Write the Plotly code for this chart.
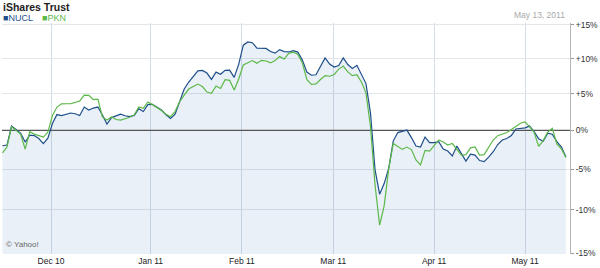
import math
import plotly.graph_objects as go

chart_title = "iShares Trust"
date_label = "May 13, 2011"
credit_label = "© Yahoo!"
series_names = ["NUCL", "PKN"]

# percent change vs. start, one value per trading day (Nov 15 2010 .. May 13 2011)
nucl_pct = [
    -2.01, -1.92, 0.58, 0.12, -0.34, -1.53, -0.61, -0.68, -1.07, -1.72,
    -1.01, 0.92, 2.13, 2.00, 2.13, 2.34, 2.24, 2.00, 3.15, 2.74,
    3.01, 3.15, 2.06, 0.85, 1.72, 1.96, 2.17, 1.97, 1.85, 2.02,
    2.93, 2.54, 3.48, 3.52, 3.10, 2.74, 2.10, 1.59, 2.19, 3.76,
    5.64, 6.63, 7.41, 8.21, 8.28, 7.90, 7.01, 8.04, 7.72, 8.28,
    8.33, 7.28, 9.19, 11.96, 12.44, 12.33, 11.53, 11.48, 11.48, 11.02,
    10.79, 11.31, 11.01, 10.96, 11.15, 10.94, 9.77, 8.04, 7.59, 7.66,
    8.86, 10.09, 9.19, 8.76, 8.99, 10.10, 9.12, 8.57, 9.01, 7.62,
    6.41, 2.30, -5.10, -8.10, -6.80, -4.90, -1.40, -0.28, -0.08, 0.05,
    -0.94, -2.05, -2.18, -0.87, -1.59, -1.59, -1.49, -2.44, -2.69, -3.33,
    -2.05, -3.08, -3.98, -3.08, -3.21, -3.91, -4.04, -3.47, -2.78, -1.85,
    -1.26, -1.06, -0.66, 0.19, 0.24, 0.34, 0.58, -0.15, -1.09, -1.41,
    -0.35, -0.50, -1.47, -2.14, -3.47,
]
pkn_pct = [
    -2.92, -2.18, 0.49, 0.05, -0.48, -2.44, -0.17, -0.48, -0.70, -0.87,
    -0.21, 2.00, 3.15, 3.59, 3.60, 3.60, 3.78, 3.98, 4.80, 4.77,
    4.18, 4.25, 1.80, 1.39, 1.80, 1.46, 1.39, 1.55, 1.76, 2.08,
    3.17, 2.98, 3.84, 3.48, 3.10, 2.67, 2.17, 1.84, 2.56, 3.88,
    4.80, 5.64, 6.00, 6.34, 5.99, 5.22, 5.04, 6.06, 5.71, 6.95,
    6.86, 5.50, 7.05, 9.06, 9.38, 9.70, 9.31, 9.74, 9.64, 9.36,
    9.70, 10.28, 9.92, 10.76, 10.94, 10.64, 9.34, 6.97, 6.28, 6.36,
    6.99, 7.54, 7.45, 7.68, 8.47, 8.90, 8.07, 7.53, 7.68, 6.63,
    5.11, 0.50, -7.00, -11.80, -9.50, -5.00, -1.72, -2.09, -2.48, -2.18,
    -2.50, -3.84, -4.46, -2.61, -2.69, -1.98, -1.24, -1.52, -1.92, -1.72,
    -2.44, -3.21, -3.15, -2.28, -2.15, -3.21, -3.15, -2.18, -1.26, -0.69,
    -0.48, -0.27, 0.13, 0.54, 0.96, 1.15, 0.52, -0.25, -2.09, -1.33,
    -0.21, 0.30, -1.76, -2.40, -3.53,
]

month_labels = ["Dec 10", "Jan 11", "Feb 11", "Mar 11", "Apr 11", "May 11"]
month_pos = [10.7, 32.6, 52.7, 72.8, 95.0, 115.0]
y_tick_pct = [-15, -10, -5, 0, 5, 10, 15]
y_tick_labels = ["-15%", "-10%", "-5%", "0%", "+5%", "+10%", "+15%"]
y_range_pct = [-15.1, 15.3]
reference_pct = 0

blue = "#1f4f8a"
green = "#5cb848"
font_family = "Arial, Liberation Sans, sans-serif"

days = list(range(len(nucl_pct)))
ratio = lambda v: 1 + v / 100.0

fig = go.Figure()
fig.add_trace(go.Scatter(
    x=days, y=[ratio(v) for v in nucl_pct], mode="lines",
    line=dict(width=0, color=blue), fill="tozeroy",
    fillcolor="rgba(40,110,180,0.10)", hoverinfo="skip", showlegend=False))
fig.add_trace(go.Scatter(
    x=[days[0] - 1, days[-1] + 1], y=[ratio(reference_pct)] * 2, mode="lines",
    line=dict(width=1.3, color="#555555"), hoverinfo="skip", showlegend=False))
fig.add_trace(go.Scatter(
    x=days, y=[ratio(v) for v in nucl_pct], mode="lines", name=series_names[0],
    line=dict(width=1.2, color=blue), showlegend=False))
fig.add_trace(go.Scatter(
    x=days, y=[ratio(v) for v in pkn_pct], mode="lines", name=series_names[1],
    line=dict(width=1.2, color=green), showlegend=False))

H_TOP, H_BOT = 23, 14
plot_h = 268 - H_TOP - H_BOT
def py(px):
    return (268 - H_BOT - px) / plot_h
L, R = 2, 23
plot_w = 600 - L - R
def pxx(px):
    return (px - L) / plot_w

annotations = [
    dict(text="<b>" + chart_title + "</b>", x=pxx(1), y=py(7), xref="paper", yref="paper",
         xanchor="left", yanchor="middle", showarrow=False,
         font=dict(size=10.5, color="#222", family=font_family)),
    dict(text="■" + series_names[0], x=pxx(1), y=py(18), xref="paper", yref="paper",
         xanchor="left", yanchor="middle", showarrow=False,
         font=dict(size=9, color=blue, family=font_family)),
    dict(text="■" + series_names[1], x=pxx(40), y=py(18), xref="paper", yref="paper",
         xanchor="left", yanchor="middle", showarrow=False,
         font=dict(size=9, color=green, family=font_family)),
    dict(text=date_label, x=pxx(574), y=py(15), xref="paper", yref="paper",
         xanchor="right", yanchor="middle", showarrow=False,
         font=dict(size=8.5, color="#aaaaaa", family=font_family)),
    dict(text=credit_label, x=pxx(4), y=py(244), xref="paper", yref="paper",
         xanchor="left", yanchor="middle", showarrow=False,
         font=dict(size=8, color="#666666", family=font_family)),
]

fig.update_layout(
    width=600, height=268,
    margin=dict(l=L, r=R, t=H_TOP, b=H_BOT, pad=0),
    paper_bgcolor="white", plot_bgcolor="white",
    showlegend=False,
    annotations=annotations,
    xaxis=dict(
        range=[-0.1, 124.9], tickmode="array", tickvals=month_pos, ticktext=month_labels,
        showgrid=True, gridcolor="#d3dde7", gridwidth=1, zeroline=False,
        showline=False, ticks="", tickfont=dict(size=8.5, color="#222", family=font_family),
        fixedrange=True,
    ),
    yaxis=dict(
        type="log", side="right",
        range=[math.log10(ratio(y_range_pct[0])), math.log10(ratio(y_range_pct[1]))],
        tickmode="array", tickvals=[ratio(v) for v in y_tick_pct], ticktext=y_tick_labels,
        showgrid=True, gridcolor="#e2e6ea", gridwidth=1, zeroline=False,
        showline=True, linecolor="#b5b5b5", linewidth=1,
        ticks="outside", ticklen=3, tickcolor="#999999",
        tickfont=dict(size=8.5, color="#333", family=font_family),
        fixedrange=True,
    ),
)

fig.write_html("out.html")
